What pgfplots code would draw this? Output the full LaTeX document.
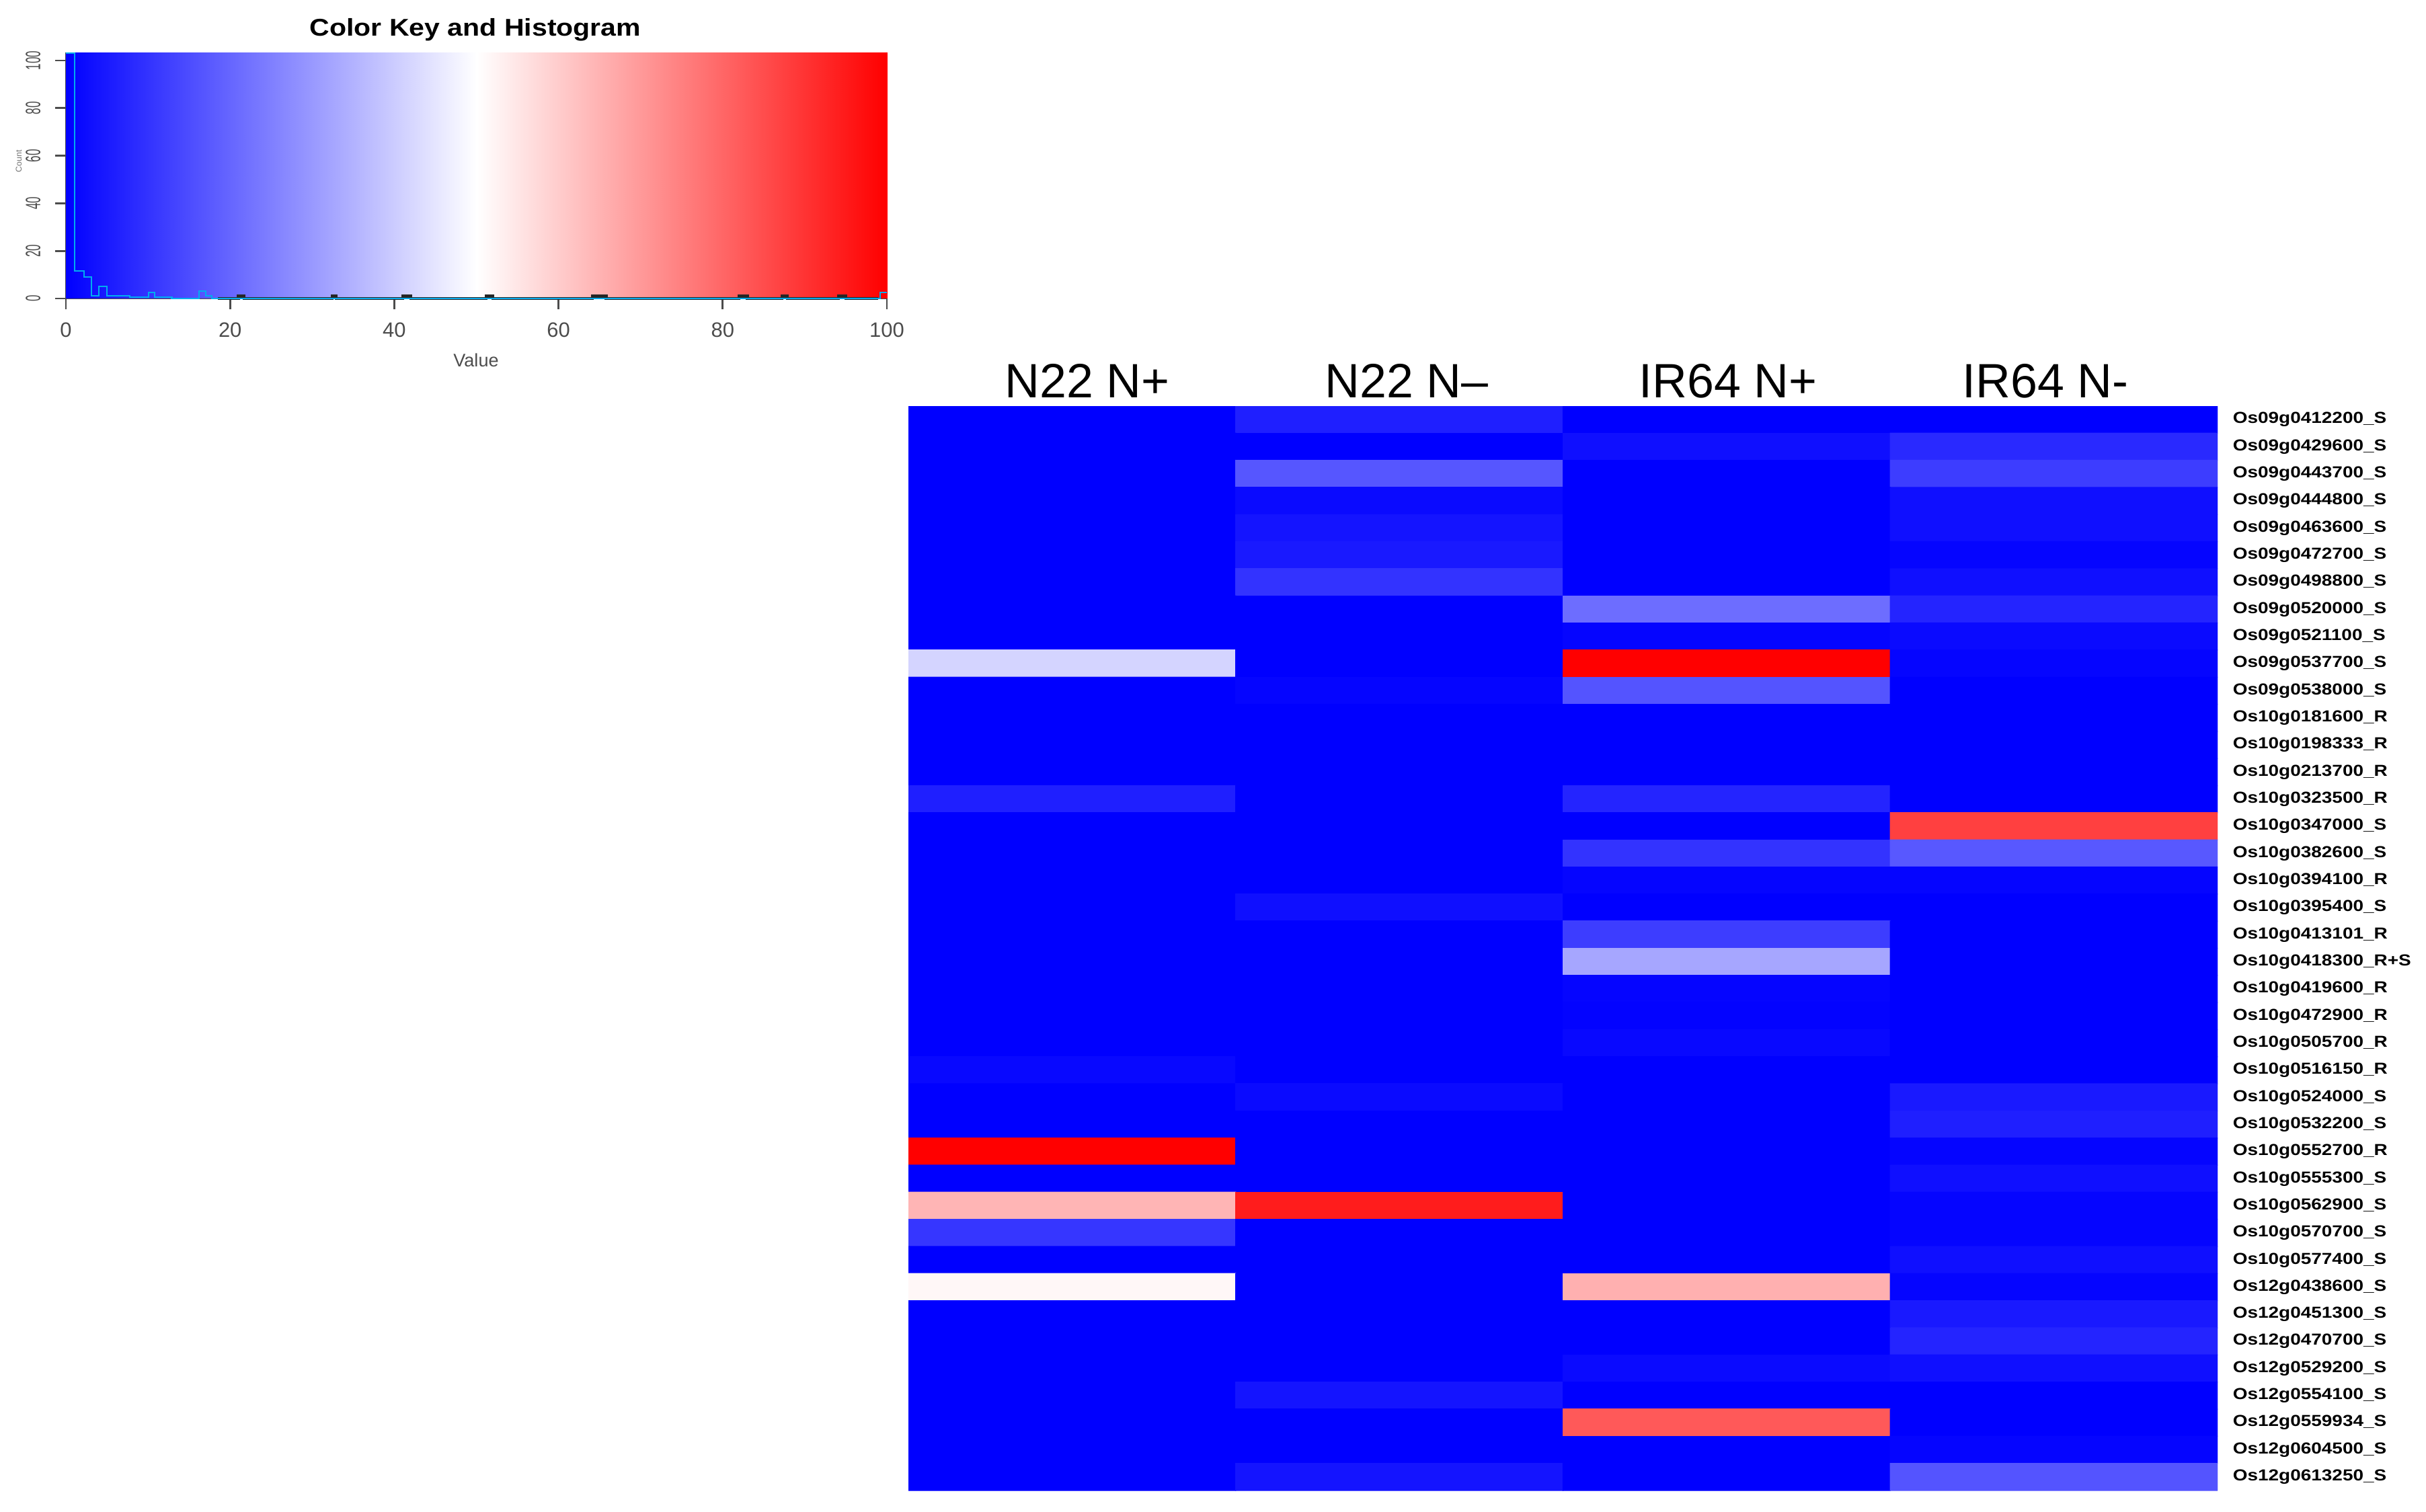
\documentclass[border=0pt]{standalone}
\usepackage{fontspec}
\setmainfont{Liberation Sans}
\usepackage{pgfplots}
\pgfplotsset{compat=1.18}
\pgfplotsset{colormap={bwr}{rgb255=(0,0,255) rgb255=(255,255,255) rgb255=(255,0,0)}}
\newcommand\hdrfont{\fontsize{20.4pt}{24pt}\selectfont}
\newcommand\lblfont{\bfseries\fontsize{6.74pt}{8pt}\selectfont}
\begin{document}
\begin{tikzpicture}
\path[use as bounding box] (0,0) rectangle (36.08cm,22.48cm);

% ---------------- Color key and histogram ----------------
\begin{axis}[at={(0.98cm,18.04cm)}, anchor=south west, scale only axis,
  width=12.21cm, height=3.66cm,
  xmin=0, xmax=100, ymin=0, ymax=103.4,
  axis x line*=bottom, axis y line*=left,
  axis line style={black!70, line width=0.8pt, -},
  xtick={0,20,...,100}, ytick={0,20,...,100},
  tick align=outside, major tick length=0.16cm,
  tick style={black!70, line width=0.8pt},
  /pgf/number format/assume math mode=true,
  xticklabel style={font=\fontsize{8.8pt}{10pt}\selectfont, text=black!70, inner sep=0pt, anchor=north, yshift=-0.19cm},
  yticklabel style={font=\fontsize{8.8pt}{10pt}\selectfont, text=black!70, inner sep=0pt, anchor=south, xshift=-0.21cm, rotate=90, xscale=0.55},
  colormap name=bwr, point meta min=0, point meta max=100,
  clip=false]
\addplot[patch, shader=interp, point meta=explicit] coordinates {
(0,0)[0] (50,0)[50] (50,103.4)[50]
(0,0)[0] (50,103.4)[50] (0,103.4)[0]
(50,0)[50] (100,0)[100] (100,103.4)[100]
(50,0)[50] (100,103.4)[100] (50,103.4)[50]
};
\addplot[black!85, line width=1.2pt, const plot, forget plot] coordinates {
(18.5,0) (21.0,1) (21.7,0) (32.4,1) (32.9,0) (41.0,1) (42.0,0) (51.2,1) (52.0,0)
(64.1,1) (65.8,0) (82.0,1) (83.0,0) (87.2,1) (87.9,0) (94.1,1) (95.0,0) (98.9,0)
};
\addplot[cyan, line width=0.6pt, const plot, forget plot] coordinates {
(0,103) (1.1,11.6) (2.2,9.1) (3.1,1.1) (4.0,5.1) (5.0,1.1) (7.8,0.6) (10.1,2.5)
(10.8,0.6) (12.9,0) (16.2,3.2) (17.0,1) (17.8,0) (21.0,0) (98.9,0) (99.2,2.5) (100,2.5)
};
\end{axis}
\node[anchor=base, font=\bfseries\fontsize{10.24pt}{12pt}\selectfont, xscale=1.14] at (7.07cm,21.94cm) {Color Key and Histogram};
\node[font=\fontsize{7.7pt}{9pt}\selectfont, text=black!70] at (7.08cm,17.12cm) {Value};
\node[font=\fontsize{3.5pt}{4pt}\selectfont, text=black!55, rotate=90] at (0.28cm,20.08cm) {Count};

% ---------------- Heatmap ----------------
\begin{axis}[at={(13.51cm,0.31cm)}, anchor=south west, scale only axis,
  width=19.47cm, height=16.13cm,
  xmin=-0.5, xmax=3.5, ymin=-0.5, ymax=39.5, y dir=reverse,
  axis line style={draw=none}, tick style={draw=none}, major tick length=0pt,
  xtick=\empty, ytick={0,...,39}, yticklabel pos=right,
  yticklabels={Os09g0412200\_S,Os09g0429600\_S,Os09g0443700\_S,Os09g0444800\_S,Os09g0463600\_S,
    Os09g0472700\_S,Os09g0498800\_S,Os09g0520000\_S,Os09g0521100\_S,Os09g0537700\_S,
    Os09g0538000\_S,Os10g0181600\_R,Os10g0198333\_R,Os10g0213700\_R,Os10g0323500\_R,
    Os10g0347000\_S,Os10g0382600\_S,Os10g0394100\_R,Os10g0395400\_S,Os10g0413101\_R,
    Os10g0418300\_R+S,Os10g0419600\_R,Os10g0472900\_R,Os10g0505700\_R,Os10g0516150\_R,
    Os10g0524000\_S,Os10g0532200\_S,Os10g0552700\_R,Os10g0555300\_S,Os10g0562900\_S,
    Os10g0570700\_S,Os10g0577400\_S,Os12g0438600\_S,Os12g0451300\_S,Os12g0470700\_S,
    Os12g0529200\_S,Os12g0554100\_S,Os12g0559934\_S,Os12g0604500\_S,Os12g0613250\_S},
  yticklabel style={font=\lblfont, anchor=west, inner sep=0pt, xshift=0.22cm, xscale=1.18},
  colormap name=bwr, point meta min=0, point meta max=100]
\addplot[matrix plot*, mesh/cols=4, point meta=explicit] coordinates {
(0,0)[0] (1,0)[6] (2,0)[0] (3,0)[0]
(0,1)[0] (1,1)[0] (2,1)[3] (3,1)[8]
(0,2)[0] (1,2)[16.8] (2,2)[0] (3,2)[12]
(0,3)[0] (1,3)[2] (2,3)[0] (3,3)[3]
(0,4)[0] (1,4)[4] (2,4)[0] (3,4)[3]
(0,5)[0] (1,5)[5] (2,5)[0] (3,5)[1]
(0,6)[0] (1,6)[10] (2,6)[0] (3,6)[3]
(0,7)[0] (1,7)[0] (2,7)[21.4] (3,7)[7]
(0,8)[0] (1,8)[0] (2,8)[1] (3,8)[2]
(0,9)[41.5] (1,9)[0] (2,9)[100] (3,9)[1]
(0,10)[0] (1,10)[1] (2,10)[16.5] (3,10)[0]
(0,11)[0] (1,11)[0] (2,11)[0] (3,11)[0]
(0,12)[0] (1,12)[0] (2,12)[0] (3,12)[0]
(0,13)[0] (1,13)[0] (2,13)[0] (3,13)[0]
(0,14)[6] (1,14)[0] (2,14)[7] (3,14)[0]
(0,15)[0] (1,15)[0] (2,15)[0] (3,15)[87.5]
(0,16)[0] (1,16)[0] (2,16)[10] (3,16)[17.3]
(0,17)[0] (1,17)[0] (2,17)[1] (3,17)[1]
(0,18)[0] (1,18)[3] (2,18)[0] (3,18)[0]
(0,19)[0] (1,19)[0] (2,19)[12] (3,19)[0]
(0,20)[0] (1,20)[0] (2,20)[32.6] (3,20)[0]
(0,21)[0] (1,21)[0] (2,21)[1] (3,21)[0]
(0,22)[0] (1,22)[0] (2,22)[0.5] (3,22)[0]
(0,23)[0] (1,23)[0] (2,23)[1.5] (3,23)[0]
(0,24)[1.5] (1,24)[0] (2,24)[0] (3,24)[0]
(0,25)[0] (1,25)[2] (2,25)[0] (3,25)[5]
(0,26)[0] (1,26)[0] (2,26)[0] (3,26)[6]
(0,27)[100] (1,27)[0] (2,27)[0] (3,27)[1]
(0,28)[0] (1,28)[0] (2,28)[0] (3,28)[3]
(0,29)[64.5] (1,29)[94.5] (2,29)[0] (3,29)[1]
(0,30)[10.5] (1,30)[0] (2,30)[0] (3,30)[1]
(0,31)[0] (1,31)[0] (2,31)[0] (3,31)[3]
(0,32)[51.6] (1,32)[0] (2,32)[65.5] (3,32)[1]
(0,33)[0] (1,33)[0] (2,33)[0] (3,33)[5]
(0,34)[0] (1,34)[0] (2,34)[0] (3,34)[7]
(0,35)[0] (1,35)[0] (2,35)[2] (3,35)[3]
(0,36)[0] (1,36)[4] (2,36)[0] (3,36)[0]
(0,37)[0] (1,37)[0] (2,37)[82.5] (3,37)[0]
(0,38)[0] (1,38)[0] (2,38)[0] (3,38)[1]
(0,39)[0] (1,39)[4] (2,39)[0] (3,39)[16.5]
};
\end{axis}
\node[anchor=base, font=\hdrfont] at (16.17cm,16.56cm) {N22 N+};
\node[anchor=base, font=\hdrfont] at (20.92cm,16.56cm) {N22 N–};
\node[anchor=base, font=\hdrfont] at (25.70cm,16.56cm) {IR64 N+};
\node[anchor=base, font=\hdrfont] at (30.42cm,16.56cm) {IR64 N-};
\end{tikzpicture}
\end{document}
